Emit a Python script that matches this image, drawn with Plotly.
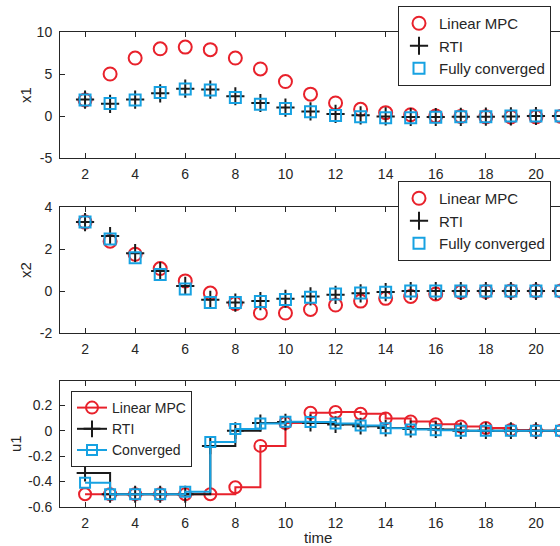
import plotly.graph_objects as go

time = list(range(2, 22))

x1_linear = [1.9, 5.0, 6.9, 8.0, 8.2, 7.9, 6.9, 5.6, 4.1, 2.6, 1.55, 0.8, 0.4, 0.15, 0.0, -0.05, -0.1, -0.12, -0.1, -0.05]
x1_rti = [1.95, 1.45, 1.95, 2.7, 3.25, 3.15, 2.35, 1.55, 1.0, 0.55, 0.25, 0.08, -0.05, -0.12, -0.12, -0.1, -0.08, -0.05, 0.0, 0.0]
x1_conv = [1.9, 1.5, 1.9, 2.8, 3.2, 3.1, 2.2, 1.4, 0.9, 0.5, 0.05, -0.1, -0.2, -0.2, -0.15, -0.1, -0.1, 0.0, 0.0, 0.0]

x2_linear = [3.28, 2.37, 1.75, 1.07, 0.48, -0.1, -0.6, -1.05, -1.05, -0.88, -0.67, -0.48, -0.35, -0.26, -0.14, -0.05, -0.02, 0.0, 0.0, 0.0]
x2_rti = [3.28, 2.62, 1.8, 0.95, 0.24, -0.42, -0.55, -0.48, -0.37, -0.26, -0.18, -0.11, -0.05, 0.0, 0.0, 0.0, 0.0, 0.0, 0.0, 0.0]
x2_conv = [3.28, 2.48, 1.58, 0.78, 0.1, -0.55, -0.55, -0.5, -0.4, -0.3, -0.14, -0.1, -0.06, 0.0, 0.0, 0.0, 0.0, 0.0, 0.0, 0.0]

u1_linear = [-0.5, -0.5, -0.5, -0.5, -0.5, -0.5, -0.445, -0.12, 0.06, 0.14, 0.147, 0.133, 0.096, 0.072, 0.05, 0.032, 0.021, 0.005, 0.0, 0.0]
u1_rti = [-0.333, -0.5, -0.5, -0.5, -0.5, -0.12, 0.0, 0.06, 0.067, 0.06, 0.048, 0.035, 0.02, 0.013, 0.008, 0.0, 0.0, 0.0, 0.0, 0.0]
u1_conv = [-0.41, -0.5, -0.5, -0.5, -0.48, -0.09, 0.013, 0.056, 0.07, 0.067, 0.056, 0.04, 0.019, 0.008, 0.003, 0.0, 0.0, 0.0, 0.0, 0.0]

x_ticks = [2, 4, 6, 8, 10, 12, 14, 16, 18, 20]
y1_ticks = [-5, 0, 5, 10]
y1_text = ["-5", "0", "5", "10"]
y2_ticks = [-2, 0, 2, 4]
y2_text = ["-2", "0", "2", "4"]
y3_ticks = [-0.6, -0.4, -0.2, 0, 0.2]
y3_text = ["-0.6", "-0.4", "-0.2", "0", "0.2"]
y_titles = ["x1", "x2", "u1"]
x_title = "time"

RED = "#E8212B"
BLACK = "#1a1a1a"
BLUE = "#17A2E2"
AX = "#262626"
FONT = "Liberation Sans, Arial, sans-serif"

fig = go.Figure()

def add_points(y, name, sym, color, size, lw, xa, ya, legend):
    fig.add_trace(go.Scatter(
        x=time, y=y, mode="markers", name=name, xaxis=xa, yaxis=ya, legend=legend,
        marker=dict(symbol=sym, size=size, color=color, line=dict(color=color, width=lw)),
    ))

for (ya, xa, lg, ys) in [("y", "x", "legend", (x1_linear, x1_rti, x1_conv)),
                         ("y2", "x2", "legend2", (x2_linear, x2_rti, x2_conv))]:
    add_points(ys[0], "Linear MPC", "circle-open", RED, 13, 2, xa, ya, lg)
    add_points(ys[1], "RTI", "cross-thin-open", BLACK, 13, 2, xa, ya, lg)
    add_points(ys[2], "Fully converged", "square-open", BLUE, 11, 2, xa, ya, lg)

for y, name, sym, color, size in [(u1_linear, "Linear MPC", "circle-open", RED, 12),
                                  (u1_rti, "RTI", "cross-thin-open", BLACK, 12),
                                  (u1_conv, "Converged", "square-open", BLUE, 10)]:
    fig.add_trace(go.Scatter(
        x=time, y=y, mode="lines+markers", name=name, xaxis="x3", yaxis="y3", legend="legend3",
        line=dict(shape="hv", color=color, width=2),
        marker=dict(symbol=sym, size=size, color=color, line=dict(color=color, width=2)),
    ))

H = 546.0
W = 560.0
L = 60.0
def dom(top, bottom):
    return [1 - bottom / H, 1 - top / H]

xcommon = dict(range=[1, 20.96], tickvals=x_ticks, ticks="inside", ticklen=5, tickcolor=AX,
               showline=True, linecolor=AX, linewidth=1, mirror="allticks", showgrid=False,
               zeroline=False, tickfont=dict(size=14, color=AX, family=FONT), domain=[0, 1],
               automargin=False, ticklabelstandoff=3)
ycommon = dict(ticks="inside", ticklen=5, tickcolor=AX, showline=True, linecolor=AX, linewidth=1,
               showgrid=False, zeroline=False, tickfont=dict(size=14, color=AX, family=FONT),
               automargin=False, ticklabelstandoff=4)

def leg(x, y, size):
    return dict(x=x / W, y=1 - y / H, xref="container", yref="container",
                xanchor="left", yanchor="top", bgcolor="white",
                bordercolor=AX, borderwidth=1, tracegroupgap=0,
                font=dict(size=size, color=AX, family=FONT))

l1 = leg(398, 6, 15); l1["itemwidth"] = 30
l2 = leg(398, 181, 15); l2["itemwidth"] = 30
l3 = leg(71, 391, 14)

doms = [dom(32, 158), dom(207, 333), dom(381, 507)]
title_x = [25, 25, 15]
annotations = []
for t, d, tx in zip(y_titles, doms, title_x):
    annotations.append(dict(text=t, xref="paper", yref="paper", x=(tx - L) / (W - L),
                            y=(d[0] + d[1]) / 2, textangle=-90, showarrow=False,
                            xanchor="center", yanchor="middle",
                            font=dict(size=15, color=AX, family=FONT)))
annotations.append(dict(text=x_title, xref="paper", yref="paper", x=(318 - L) / (W - L),
                        y=1 - 537 / H, showarrow=False, xanchor="center", yanchor="middle",
                        font=dict(size=15, color=AX, family=FONT)))

fig.update_layout(
    width=560, height=546,
    margin=dict(l=L, r=0, t=0, b=0, autoexpand=False),
    paper_bgcolor="white", plot_bgcolor="white",
    font=dict(family=FONT, color=AX, size=15),
    xaxis=dict(**xcommon, anchor="y"),
    yaxis=dict(**ycommon, domain=doms[0], range=[-5, 10], tickvals=y1_ticks, ticktext=y1_text, anchor="x"),
    xaxis2=dict(**xcommon, anchor="y2"),
    yaxis2=dict(**ycommon, domain=doms[1], range=[-2, 4], tickvals=y2_ticks, ticktext=y2_text, anchor="x2"),
    xaxis3=dict(**xcommon, anchor="y3"),
    yaxis3=dict(**ycommon, domain=doms[2], range=[-0.6, 0.39], tickvals=y3_ticks, ticktext=y3_text, anchor="x3"),
    legend=l1, legend2=l2, legend3=l3,
    showlegend=True,
    annotations=annotations,
)

fig.write_html("out.html", config={"displayModeBar": False},
               post_script="document.body.style.margin='0';document.body.style.overflow='hidden';")
